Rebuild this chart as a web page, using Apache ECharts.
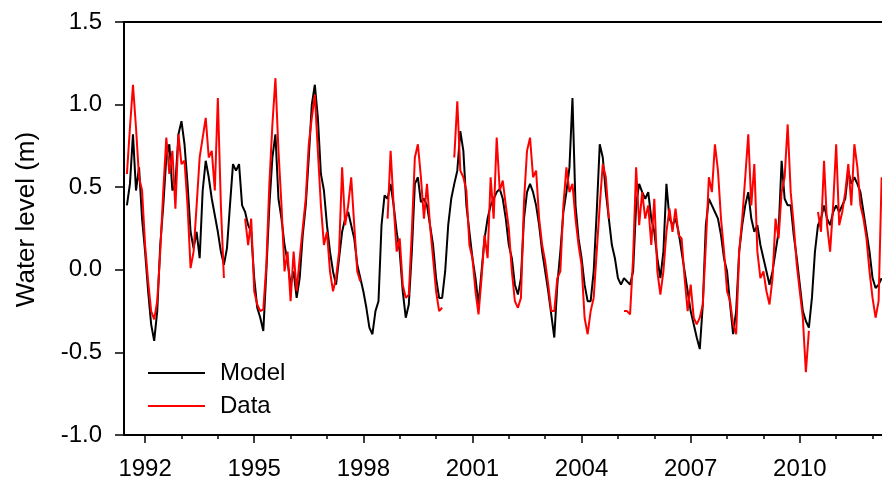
<!DOCTYPE html>
<html>
<head>
<meta charset="utf-8">
<script src="https://cdn.jsdelivr.net/npm/echarts@6/dist/echarts.min.js"></script>
<style>
  html, body { margin: 0; padding: 0; background: #fff; }
  #main { width: 882px; height: 482px; }
</style>
</head>
<body>
<div id="main"></div>
<script>
// monthly samples, first one at mid 1991
const startYear = 1991.5;

// simulated water level (m)
const modelLevel = [
  0.39, 0.52, 0.82, 0.48, 0.62, 0.31, 0.11, -0.13, -0.33, -0.43, -0.25, 0.15,
  0.39, 0.68, 0.76, 0.48, 0.52, 0.82, 0.90, 0.76, 0.52, 0.23, 0.13, 0.23,
  0.07, 0.48, 0.66, 0.56, 0.43, 0.33, 0.23, 0.11, 0.03, 0.13, 0.39, 0.64,
  0.60, 0.64, 0.39, 0.35, 0.27, 0.23, -0.05, -0.23, -0.29, -0.37, -0.01, 0.39,
  0.68, 0.82, 0.43, 0.31, 0.15, 0.05, -0.09, -0.01, -0.17, -0.05, 0.21, 0.39,
  0.68, 1.00, 1.12, 0.92, 0.58, 0.48, 0.27, 0.11, -0.01, -0.09, 0.07, 0.23,
  0.31, 0.35, 0.27, 0.19, 0.03, -0.05, -0.13, -0.23, -0.35, -0.39, -0.25, -0.19,
  0.27, 0.45, 0.43, 0.52, 0.39, 0.23, 0.11, -0.13, -0.29, -0.21, 0.11, 0.52,
  0.56, 0.41, 0.43, 0.39, 0.27, 0.15, -0.05, -0.17, -0.17, -0.01, 0.27, 0.43,
  0.52, 0.60, 0.84, 0.72, 0.39, 0.23, 0.07, -0.05, -0.21, -0.01, 0.19, 0.31,
  0.39, 0.43, 0.47, 0.49, 0.43, 0.31, 0.15, 0.07, -0.09, -0.15, -0.05, 0.31,
  0.47, 0.52, 0.47, 0.39, 0.27, 0.11, -0.01, -0.13, -0.27, -0.41, -0.09, 0.11,
  0.35, 0.47, 0.62, 1.04, 0.39, 0.19, 0.07, -0.09, -0.19, -0.19, -0.01, 0.35,
  0.76, 0.68, 0.47, 0.31, 0.15, 0.07, -0.05, -0.09, -0.05, -0.07, -0.09, -0.01,
  0.39, 0.52, 0.47, 0.43, 0.47, 0.31, 0.23, 0.07, -0.05, 0.11, 0.52, 0.31,
  0.27, 0.31, 0.23, 0.11, -0.01, -0.13, -0.25, -0.33, -0.41, -0.48, -0.21, 0.27,
  0.43, 0.39, 0.35, 0.31, 0.21, 0.07, -0.01, -0.21, -0.39, -0.25, 0.11, 0.27,
  0.39, 0.47, 0.31, 0.23, 0.27, 0.15, 0.07, -0.01, -0.09, -0.01, 0.11, 0.23,
  0.66, 0.43, 0.39, 0.39, 0.21, 0.07, -0.09, -0.25, -0.31, -0.35, -0.17, 0.11,
  0.27, 0.31, 0.39, 0.31, 0.27, 0.35, 0.39, 0.35, 0.39, 0.43, 0.60, 0.52,
  0.56, 0.52, 0.47, 0.35, 0.23, 0.11, -0.05, -0.11, -0.09, -0.05
];

// measured water level (m), null where there is no record
const dataLevel = [
  0.58, 0.86, 1.12, 0.86, 0.56, 0.48, 0.15, -0.07, -0.25, -0.30, -0.19, 0.11,
  0.48, 0.80, 0.58, 0.72, 0.37, 0.82, 0.64, 0.66, 0.39, 0.01, 0.11, 0.39,
  0.68, 0.80, 0.92, 0.68, 0.72, 0.48, 1.04, 0.39, -0.05, null, null, null,
  null, null, null, 0.31, 0.15, 0.31, -0.13, -0.21, -0.25, -0.24, 0.03, 0.52,
  0.88, 1.16, 0.72, 0.39, -0.01, 0.11, -0.19, 0.11, -0.13, 0.07, 0.25, 0.43,
  0.76, 0.92, 1.06, 0.72, 0.39, 0.15, 0.23, -0.01, -0.13, -0.05, 0.11, 0.62,
  0.27, 0.39, 0.56, 0.27, -0.01, -0.07, null, null, null, null, null, null,
  null, null, 0.31, 0.72, 0.39, 0.11, 0.19, -0.09, -0.17, -0.15, 0.23, 0.68,
  0.76, 0.56, 0.31, 0.52, 0.27, 0.07, -0.13, -0.25, -0.23, null, null, null,
  0.68, 1.02, 0.60, 0.56, 0.48, 0.15, 0.07, -0.13, -0.27, -0.05, 0.21, 0.07,
  0.56, 0.31, 0.80, 0.48, 0.54, 0.39, 0.25, -0.01, -0.19, -0.23, -0.17, 0.41,
  0.72, 0.80, 0.56, 0.60, 0.31, 0.15, 0.05, -0.09, -0.25, -0.25, -0.05, -0.01,
  0.39, 0.62, 0.47, 0.52, 0.31, 0.15, 0.03, -0.29, -0.39, -0.25, -0.17, 0.11,
  0.39, 0.64, 0.56, 0.31, null, null, null, null, -0.25, -0.25, -0.27, 0.07,
  0.62, 0.27, 0.47, 0.31, 0.39, 0.15, 0.43, -0.01, -0.15, -0.01, 0.23, 0.37,
  0.23, 0.37, 0.21, 0.19, -0.05, -0.25, -0.09, -0.29, -0.33, -0.29, -0.21, 0.15,
  0.56, 0.47, 0.76, 0.60, 0.31, 0.11, -0.13, -0.19, -0.33, -0.39, 0.11, 0.31,
  0.56, 0.82, 0.39, 0.64, 0.11, -0.05, -0.01, -0.13, -0.21, -0.05, 0.31, 0.19,
  0.47, 0.56, 0.88, 0.47, 0.27, 0.03, -0.13, -0.29, -0.62, -0.37, null, null,
  0.35, 0.23, 0.66, 0.27, 0.11, 0.39, 0.76, 0.27, 0.35, 0.47, 0.64, 0.39,
  0.76, 0.62, 0.39, 0.31, 0.19, -0.01, -0.17, -0.29, -0.19, 0.56
];

const labelYears = [1992, 1995, 1998, 2001, 2004, 2007, 2010];
const tickYears = [1992, 1993, 1994, 1995, 1996, 1997, 1998, 1999, 2000, 2001,
  2002, 2003, 2004, 2005, 2006, 2007, 2008, 2009, 2010, 2011, 2012];

const font = 'Liberation Sans, Arial, sans-serif';
const xMin = 1991.42;
const xMax = 2012.26;

function toPoints(arr) {
  return arr.map((v, i) => [startYear + i / 12, v]);
}

let myChart = echarts.init(document.getElementById('main'));
let option = {
  animation: false,
  grid: { left: 124, right: 0, top: 22, bottom: 47 },
  legend: {
    data: ['Model', 'Data'],
    orient: 'vertical',
    left: 143,
    top: 356,
    icon: 'rect',
    itemWidth: 57,
    itemHeight: 2,
    itemGap: 9,
    textStyle: { fontFamily: font, fontSize: 24, color: '#000', padding: [0, 0, 0, 10] }
  },
  xAxis: [
    {
      type: 'value',
      min: xMin,
      max: xMax,
      axisLine: { onZero: false, lineStyle: { color: '#000', width: 2 } },
      axisTick: { customValues: labelYears, length: 8, lineStyle: { color: '#000', width: 1.5 } },
      axisLabel: {
        customValues: labelYears,
        margin: 22,
        fontFamily: font,
        fontSize: 24,
        color: '#000',
        formatter: v => String(Math.round(v))
      },
      splitLine: { show: false }
    },
    {
      // yearly minor ticks
      type: 'value',
      position: 'bottom',
      min: xMin,
      max: xMax,
      axisLine: { show: false, onZero: false },
      axisTick: { customValues: tickYears, length: 4, lineStyle: { color: '#000', width: 1.5 } },
      axisLabel: { show: false },
      splitLine: { show: false }
    },
    {
      // top frame line
      type: 'value',
      position: 'top',
      min: xMin,
      max: xMax,
      axisLine: { onZero: false, lineStyle: { color: '#000', width: 2 } },
      axisTick: { show: false },
      axisLabel: { show: false },
      splitLine: { show: false }
    }
  ],
  yAxis: {
    type: 'value',
    min: -1,
    max: 1.5,
    interval: 0.5,
    name: 'Water level (m)',
    nameLocation: 'middle',
    nameGap: 84,
    nameTextStyle: { fontFamily: font, fontSize: 26, color: '#000', padding: [0, 0, 0, 18] },
    axisLine: { show: true, onZero: false, lineStyle: { color: '#000', width: 2 } },
    axisTick: { show: true, length: 9, lineStyle: { color: '#000', width: 1.5 } },
    axisLabel: {
      margin: 22,
      fontFamily: font,
      fontSize: 24,
      color: '#000',
      formatter: v => v.toFixed(1)
    },
    splitLine: { show: false }
  },
  series: [
    {
      name: 'Model',
      type: 'line',
      xAxisIndex: 0,
      data: toPoints(modelLevel),
      showSymbol: false,
      symbol: 'none',
      lineStyle: { color: '#000', width: 2 },
      itemStyle: { color: '#000' }
    },
    {
      name: 'Data',
      type: 'line',
      xAxisIndex: 0,
      data: toPoints(dataLevel),
      showSymbol: false,
      symbol: 'none',
      lineStyle: { color: '#ff0000', width: 2 },
      itemStyle: { color: '#ff0000' }
    }
  ]
};
myChart.setOption(option);
</script>
</body>
</html>
